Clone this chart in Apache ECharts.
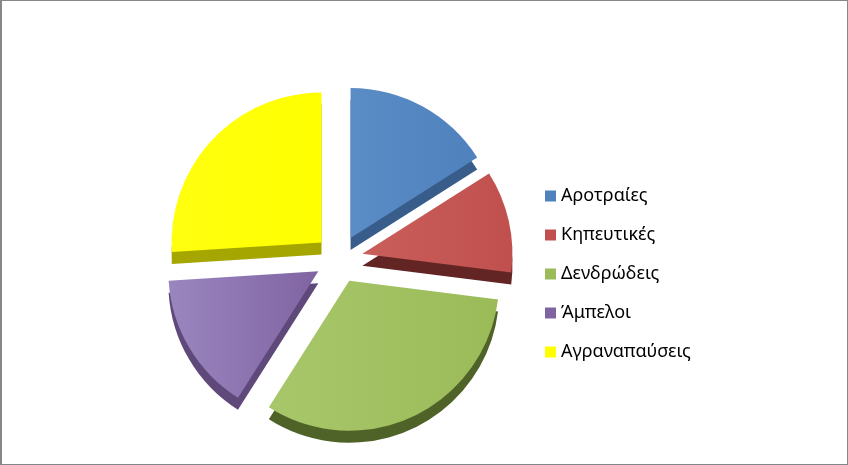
<!DOCTYPE html>
<html>
<head>
    <meta charset="utf-8">
    <script src="https://cdn.jsdelivr.net/npm/echarts@6/dist/echarts.min.js"></script>
    <style>
        html, body { margin: 0; padding: 0; background: #fff; }
        #myChart { width: 848px; height: 465px; box-sizing: border-box; border: 1px solid #878787; border-left-width: 2px; }
    </style>
</head>
<body>
<div id="myChart"></div>

<script type="text/javascript">
    var chart = echarts.init(document.getElementById('myChart'));

    // κατηγορίες καλλιεργειών και μερίδια (εκτίμηση από το σχήμα)
    var categories = ['Αροτραίες', 'Κηπευτικές', 'Δενδρώδεις', 'Άμπελοι', 'Αγραναπαύσεις'];
    var values = [16, 11, 32, 15, 26];

    var topColors = ['#4f81bd', '#c0504d', '#9bbb59', '#8064a2', '#ffff00'];
    var lightColors = ['#5a8cc6', '#c95e5b', '#a8c76a', '#9a86bf', '#ffff10'];
    var sideColors = ['#385d8a', '#632523', '#4f6228', '#5f497a', '#a6a600'];

    function makeData(colors, light) {
        return categories.map(function (name, i) {
            var color = colors[i];
            if (light) {
                // απαλή σκίαση όπως στο 3D γράφημα του Excel
                color = new echarts.graphic.LinearGradient(0, 0, 1, 0, [
                    {offset: 0, color: light[i]},
                    {offset: 1, color: colors[i]},
                ]);
            }
            return {
                name: name,
                value: values[i],
                selected: true,  // όλα τα κομμάτια αποσπασμένα
                itemStyle: {color: color},
            };
        });
    }

    var pieCommon = {
        type: 'pie',
        radius: ['0', 150],
        startAngle: 90,
        clockwise: true,
        selectedMode: 'multiple',
        selectedOffset: 24,
        label: {show: false},
        labelLine: {show: false},
        emphasis: {disabled: true},
        animation: false,
    };

    var option = {
        legend: {
            orient: 'vertical',
            left: 538,
            top: 181,
            icon: 'rect',
            itemWidth: 11,
            itemHeight: 11,
            itemGap: 21,
            selectedMode: false,
            textStyle: {
                fontFamily: 'Noto Sans',
                fontSize: 18,
                color: '#000',
            },
            data: categories.map(function (name, i) {
                return {name: name, itemStyle: {color: topColors[i]}};
            }),
        },
        series: [
            echarts.util.extend({
                name: 'top',
                center: [337, 258],
                z: 3,
                data: makeData(topColors, lightColors),
            }, pieCommon),
            echarts.util.extend({
                name: 'side',
                center: [337, 270],
                z: 2,
                data: makeData(sideColors),
            }, pieCommon),
        ],
    };

    chart.setOption(option, true);
</script>
</body>
</html>
